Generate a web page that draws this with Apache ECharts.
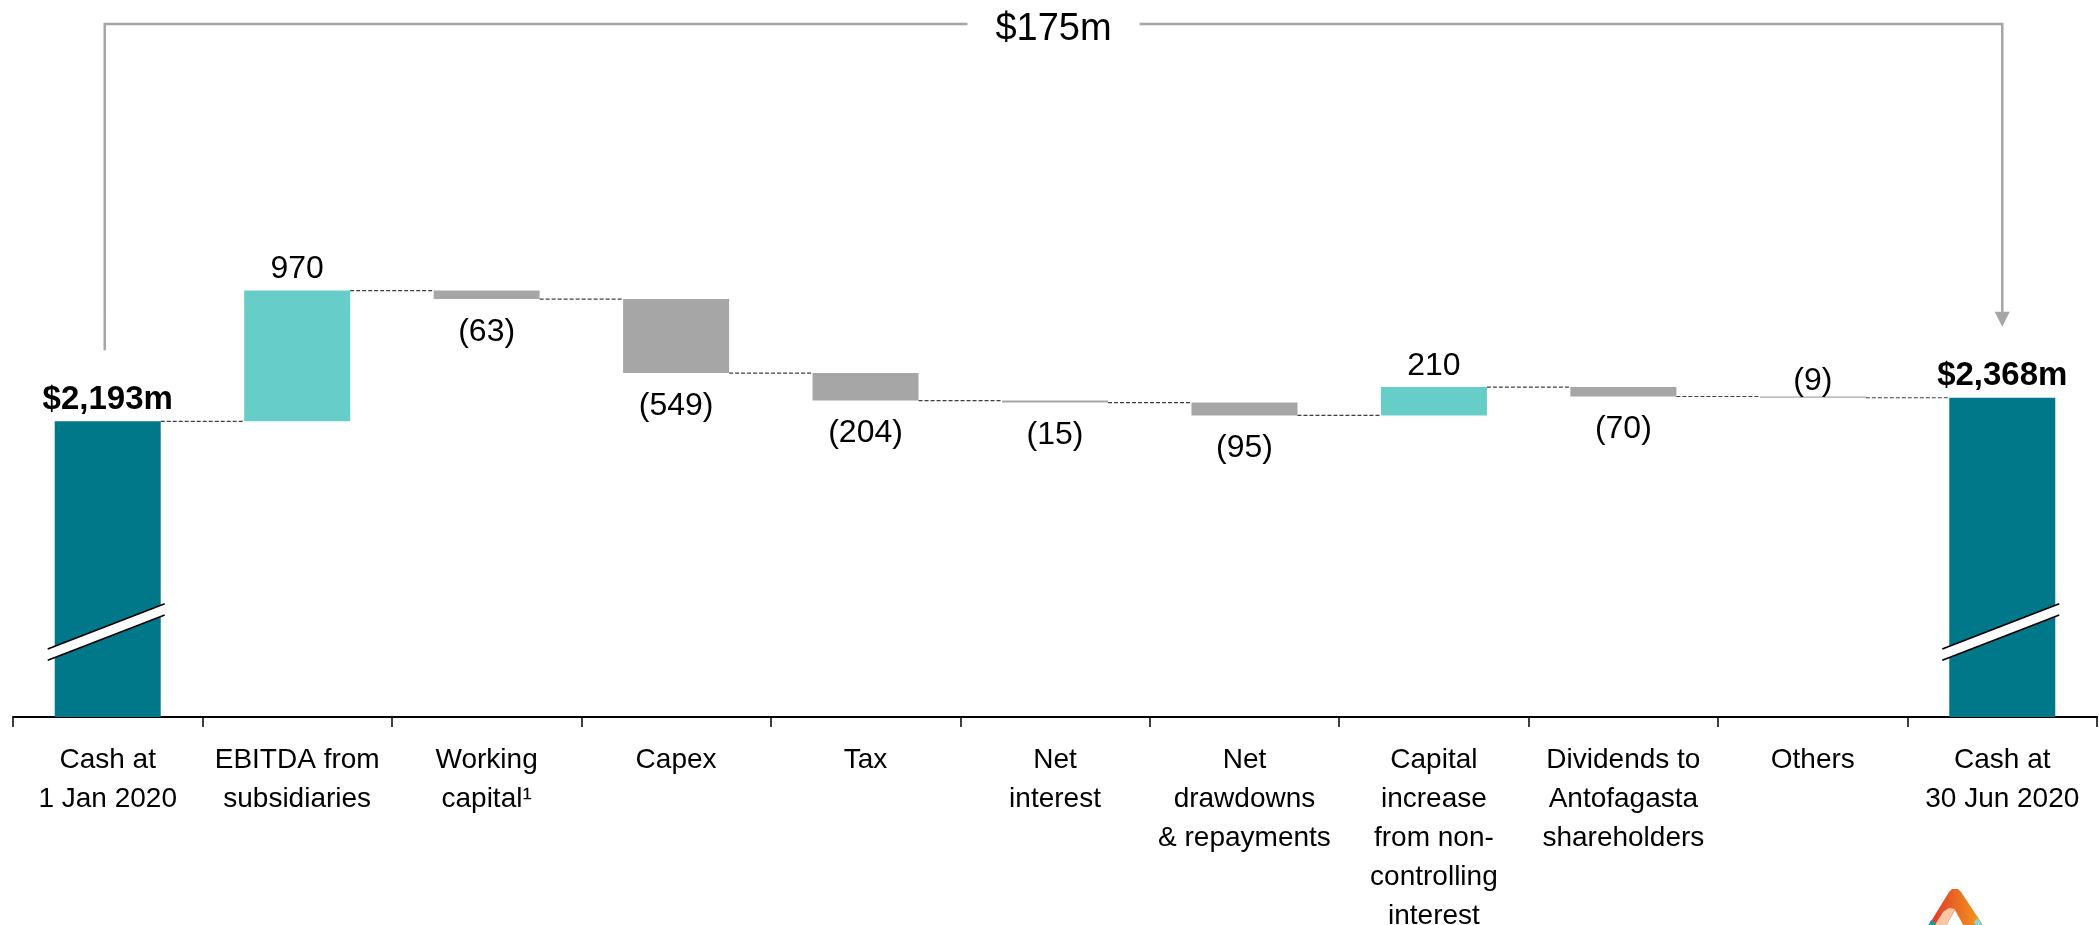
<!DOCTYPE html>
<html><head><meta charset="utf-8">
<script src="https://cdn.jsdelivr.net/npm/echarts@6/dist/echarts.min.js"></script>
<style>html,body{margin:0;padding:0;background:#fff}#c{width:2099px;height:925px}</style>
</head><body><div id="c"></div>
<script>
const categories = ['Cash at\n1 Jan 2020','EBITDA from\nsubsidiaries','Working\ncapital\u00b9','Capex','Tax','Net\ninterest','Net\ndrawdowns\n& repayments','Capital\nincrease\nfrom non-\ncontrolling\ninterest','Dividends to\nAntofagasta\nshareholders','Others','Cash at\n30 Jun 2020'];
const openingCash = 2193;
const movements = [970, -63, -549, -204, -15, -95, 210, -70, -9];
const closingCash = 2368;
const changeLabel = '$175m';

const FONT = 'Liberation Sans';
const C_TOTAL = '#00788A', C_UP = '#66CDC8', C_DOWN = '#A6A6A6';
const BAR_W = 106;
const Y_MAX = 5140;

// waterfall build
const base = [0], vis = [], levels = [];
let running = openingCash;
vis.push({value: openingCash, itemStyle:{color:C_TOTAL},
  label:{show:true, position:'top', distance:5, fontSize:33, fontWeight:'bold', formatter:() => '$' + openingCash.toLocaleString('en-US') + 'm'}});
levels.push([0, running]);
movements.forEach((m, k) => {
  const txt = m < 0 ? '(' + Math.abs(m) + ')' : String(m);
  const above = m >= 0 || Math.abs(m) < 10;
  if (m >= 0) { base.push(running); running += m; }
  else { running += m; base.push(running); }
  vis.push({value: Math.abs(m), itemStyle:{color: m >= 0 ? C_UP : C_DOWN},
    label:{show:true, position: above ? 'top' : 'bottom', distance: above ? (m >= 0 ? 5 : -1) : 17, fontSize:32, formatter:() => txt}});
  levels.push([k + 1, running]);
});
base.push(0);
vis.push({value: closingCash, itemStyle:{color:C_TOTAL},
  label:{show:true, position:'top', distance:5, fontSize:33, fontWeight:'bold', formatter:() => '$' + closingCash.toLocaleString('en-US') + 'm'}});

const chart = echarts.init(document.getElementById('c'), null, {renderer:'canvas'});
chart.setOption({
  animation:false,
  textStyle:{fontFamily:FONT},
  grid:{left:13, right:2, top:24, bottom:208, containLabel:false, outerBoundsMode:'none'},
  xAxis:{type:'category', data:categories,
    axisLine:{lineStyle:{color:'#000', width:2}},
    axisTick:{show:true, length:10, lineStyle:{color:'#000', width:1.5}},
    axisLabel:{interval:0, fontSize:28, lineHeight:39, color:'#000', margin:24, fontFamily:FONT}},
  yAxis:{type:'value', min:0, max:Y_MAX, show:false, splitLine:{show:false}},
  series:[
    {type:'bar', stack:'w', data:base, barWidth:BAR_W, itemStyle:{color:'transparent'}, silent:true},
    {type:'bar', stack:'w', data:vis, barWidth:BAR_W, label:{color:'#000', fontFamily:FONT}},
    {type:'custom', coordinateSystem:'cartesian2d', z:5, clip:false,
      data: levels.filter(d => d[0] < categories.length - 1),
      renderItem:(params, api) => {
        const p = api.coord([api.value(0), api.value(1)]);
        const bw = api.size([1, 0])[0];
        const h = BAR_W / 2;
        return {type:'line', shape:{x1:p[0] + h, y1:p[1], x2:p[0] + bw - h, y2:p[1]},
          style:{stroke:'#3F3F3F', lineWidth:1.2, lineDash:[4, 2]}};
      }},
    {type:'custom', coordinateSystem:'cartesian2d', z:6, clip:false,
      data:[[0, openingCash]],
      renderItem:(params, api) => {
        const pL = api.coord([0, openingCash]);
        const pR = api.coord([categories.length - 1, closingCash]);
        const top = api.coord([0, Y_MAX])[1];
        const gap = 71;
        const xl = pL[0] - 3, xr = pR[0];
        const tip = pR[1] - gap;
        const col = '#A6A6A6';
        return {type:'group', children:[
          {type:'polyline', shape:{points:[[xl, pL[1] - gap], [xl, top], [xr, top], [xr, tip - 14]]},
            style:{stroke:col, lineWidth:2.5, fill:null}},
          {type:'polygon', shape:{points:[[xr - 7.5, tip - 15], [xr + 7.5, tip - 15], [xr, tip]]},
            style:{fill:col}},
          {type:'rect', shape:{x:(xl + xr) / 2 - 86, y:top - 4, width:172, height:8}, style:{fill:'#fff'}},
          {type:'text', x:(xl + xr) / 2, y:top + 6,
            style:{text:changeLabel, fontSize:38, fontFamily:FONT, fill:'#000', align:'center', verticalAlign:'middle'}}
        ]};
      }},
    {type:'custom', coordinateSystem:'cartesian2d', z:7, clip:false,
      data:[[0, openingCash], [categories.length - 1, closingCash]],
      renderItem:(params, api) => {
        const p = api.coord([api.value(0), 0]);
        const cx = p[0] - 1.5, cy = p[1] - 85;
        const hw = 58.5, dy = 22.6, sep = 5.6;
        const a1 = [cx - hw, cy + dy - sep], a2 = [cx + hw, cy - dy - sep];
        const b1 = [cx - hw, cy + dy + sep], b2 = [cx + hw, cy - dy + sep];
        return {type:'group', children:[
          {type:'polygon', shape:{points:[a1, a2, b2, b1]}, style:{fill:'#fff'}},
          {type:'line', shape:{x1:a1[0], y1:a1[1], x2:a2[0], y2:a2[1]}, style:{stroke:'#000', lineWidth:1.6}},
          {type:'line', shape:{x1:b1[0], y1:b1[1], x2:b2[0], y2:b2[1]}, style:{stroke:'#000', lineWidth:1.6}}
        ]};
      }}
  ],
  graphic:[
    {type:'group', left:1927, top:889, silent:true, children:[
      {type:'polygon', shape:{points:[[0,40],[22,4],[25,1],[31,1],[34,4],[58,40]]},
        style:{fill:new echarts.graphic.LinearGradient(0,0,1,0,[{offset:0,color:'#E0302B'},{offset:1,color:'#F4A21B'}])}},
      {type:'polygon', shape:{points:[[6,40],[16,24],[22,20],[28,21],[18,40]]}, style:{fill:'#F6C9A6'}},
      {type:'polygon', shape:{points:[[18,40],[28,22],[38,40]]}, style:{fill:'#fff'}},
      {type:'polygon', shape:{points:[[0,40],[4,32],[9,36],[6,40]]}, style:{fill:'#1A9BA8'}},
      {type:'polygon', shape:{points:[[50,30],[58,40],[50,40],[47,34]]}, style:{fill:'#8FD3D8'}}
    ]}
  ]
});
</script></body></html>
